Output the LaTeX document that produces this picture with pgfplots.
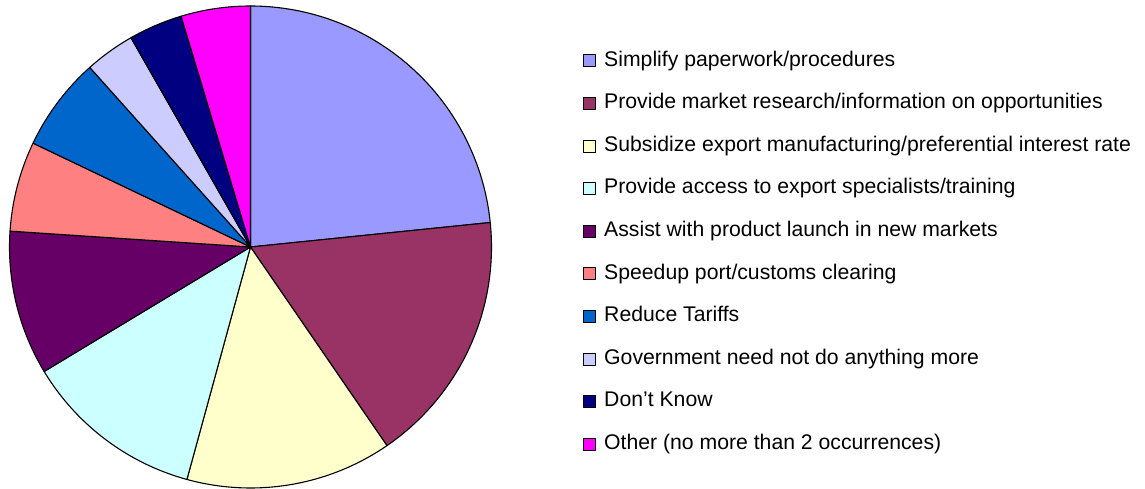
\documentclass[border=0pt]{standalone}
\usepackage{fontspec}
\setmainfont{Liberation Sans}
\usepackage{pgfplots}
\pgfplotsset{compat=1.18}
\definecolor{c1}{HTML}{9999FF}
\definecolor{c2}{HTML}{993366}
\definecolor{c3}{HTML}{FFFFCC}
\definecolor{c4}{HTML}{CCFFFF}
\definecolor{c5}{HTML}{660066}
\definecolor{c6}{HTML}{FF8080}
\definecolor{c7}{HTML}{0066CC}
\definecolor{c8}{HTML}{CCCCFF}
\definecolor{c9}{HTML}{000080}
\definecolor{c10}{HTML}{FF00FF}
% shares of the pie, in percent, clockwise from 12 o'clock
\newcommand\cum{90}
\newcommand\slice[3]{%
  \pgfmathsetmacro\sa{\cum}%
  \pgfmathsetmacro\sb{\cum-3.6*#1}%
  \xdef\cum{\sb}%
  \edef\doslice{\noexpand\addplot[fill=#2, draw=black, line width=1.1pt, line join=round, domain=\sb:\sa, samples=90] ({cos(x)},{sin(x)}) -- (axis cs:0,0) -- cycle;}%
  \doslice
  \addlegendentry{#3}}
\begin{document}
\begin{tikzpicture}
\begin{axis}[
  name=pie, hide axis, scale only axis,
  width=482pt, height=482pt,
  xmin=-1, xmax=1, ymin=-1, ymax=1, clip=false,
  legend cell align=left,
  legend style={at={(axis description cs:1.19,0.907)}, anchor=north west,
    draw=none, fill=none, inner sep=0pt, row sep=23.1pt,
    font=\fontsize{21.2}{25}\selectfont,
    nodes={inner sep=0pt, text height=15pt, text depth=4.5pt}},
  legend image code/.code={\draw[#1, line width=0.8pt] (0pt,-6pt) rectangle (12pt,6pt); \path (20pt,0pt);},
]
\slice{23.38}{c1}{Simplify paperwork/procedures}
\slice{17.04}{c2}{Provide market research/information on opportunities}
\slice{13.83}{c3}{Subsidize export manufacturing/preferential interest rate}
\slice{12.11}{c4}{Provide access to export specialists/training}
\slice{9.69}{c5}{Assist with product launch in new markets}
\slice{6.04}{c6}{Speedup port/customs clearing}
\slice{6.29}{c7}{Reduce Tariffs}
\slice{3.36}{c8}{Government need not do anything more}
\slice{3.61}{c9}{Don’t Know}
\slice{4.65}{c10}{Other (no more than 2 occurrences)}
\coordinate (ll) at (axis cs:-1,-1);
\end{axis}
\pgfresetboundingbox
\path ([shift={(-9.5pt,-1pt)}]ll) rectangle ++(1145pt,489pt);
\end{tikzpicture}
\end{document}
